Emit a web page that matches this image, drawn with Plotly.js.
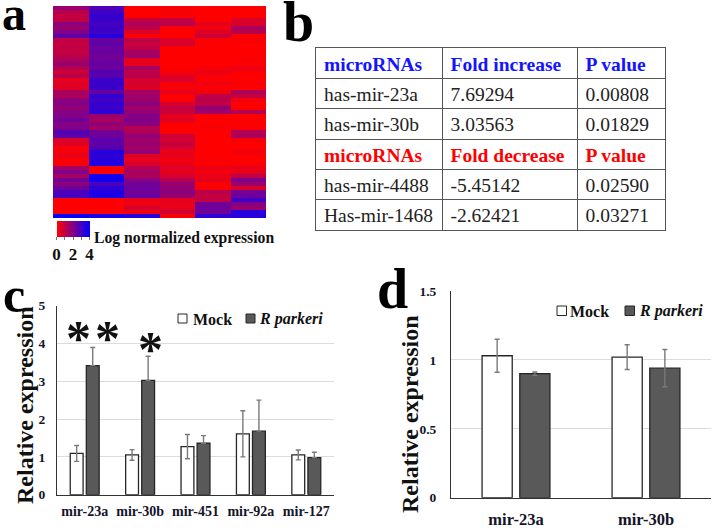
<!DOCTYPE html>
<html><head><meta charset="utf-8">
<script src="https://cdn.plot.ly/plotly-3.0.1.min.js"></script>
<style>html,body{margin:0;padding:0;background:#fff}</style></head>
<body><div id="chart" style="width:714px;height:528px"></div>
<script>
// Panel a: heatmap columns (log normalized expression, 53 rows top to bottom)
const heatCol1=[1.6,1.1,.9,1.0,1.8,1.6,2.0,2.5,1.0,.9,1.0,.9,1.1,1.3,1.6,1.2,.8,1.1,.4,.5,.5,1.4,1.3,1.8,1.9,1.7,1.9,2.0,2.2,1.9,2.0,2.7,2.5,.6,.5,.1,.2,.3,.1,.1,1.5,2.0,1.4,2.2,1.8,2.3,2.8,2.9,0,0,0,0,3.9];
const heatCol2=[2.8,3.0,3.2,3.1,2.9,3.1,3.0,3.4,2.4,2.5,2.3,2.4,2.2,2.3,2.4,2.3,2.7,2.6,3.1,3.1,3.1,2.4,3.2,3.0,3.2,3.1,3.3,1.6,1.4,1.7,1.5,2.2,2.3,2.6,2.5,2.7,3.4,3.3,3.4,3.5,0,0,3.7,3.8,2.8,3.3,3.5,3.6,0,0,0,0,3.6];
const heatCol3=[0,0,0,.9,1.3,1.0,.5,.1,1.0,.9,1.0,1.4,1.5,.4,.4,1.4,1.0,1.1,.7,.6,.6,1.4,1.5,1.6,1.8,1.5,1.7,1.9,2.0,1.8,1.2,1.3,1.7,1.5,1.6,1.5,1.7,.5,.4,.6,1.2,1.4,1.3,1.9,2.2,2.3,2.2,2.4,.4,.2,.7,.2,3.4];
const heatCol4=[.1,.1,.1,.9,1.1,.1,0,0,.5,.7,0,0,0,0,0,0,.1,.5,.6,.1,.1,.4,0,0,.7,.9,.8,.4,.5,0,0,0,.8,.7,.9,.7,.3,.4,.2,.3,.5,.4,.7,1.2,1.6,1.7,1.8,1.6,.5,.3,.4,.8,.1];
const heatCol5=[0,0,0,0,.4,.2,.5,.8,0,0,0,0,0,0,0,.1,.3,.1,.1,.2,.1,.2,1.0,1.1,1.0,1.7,1.5,0,0,0,.1,0,0,0,0,0,0,0,.1,0,.3,.2,.3,.4,0,.1,1.1,.9,1.0,2.2,2.3,2.2,3.3];
const heatCol6=[0,0,0,.6,.6,1.3,1.1,0,.1,0,0,0,0,.1,0,.3,.1,0,0,.1,0,1.3,.9,.2,0,0,1.2,0,0,0,.1,1.2,1.3,.1,0,0,.2,0,0,.1,.3,.4,1.0,2.0,1.6,.6,2.2,2.3,3.0,1.9,1.6,3.4,3.4];
// Panel b: table, one array per column, rows top to bottom
const tableCol1=["<b>microRNAs</b>","has-mir-23a","has-mir-30b","<b>microRNAs</b>","has-mir-4488","Has-mir-1468"];
const tableCol2=["<b>Fold increase</b>","7.69294","3.03563","<b>Fold decrease</b>","-5.45142","-2.62421"];
const tableCol3=["<b>P value</b>","0.00808","0.01829","<b>P value</b>","0.02590","0.03271"];
const tableRowColors=["#1414ff","#222","#222","#ff0000","#222","#222"];
// Panel c
const catsC=["mir-23a","mir-30b","mir-451","mir-92a","mir-127"];
const mockC=[1.09,1.05,1.27,1.61,1.05];
const mockErrC=[.21,.14,.32,.61,.13];
const rickC=[3.41,3.02,1.36,1.68,.98];
const rickErrC=[.48,.64,.2,.82,.14];
// Panel d
const catsD=["mir-23a","mir-30b"];
const mockD=[1.03,1.02];
const mockErrD=[.12,.09];
const rickD=[.9,.94];
const rickErrD=[.012,.135];

const W=714,H=528,SERIF="Liberation Serif",INK="#111";
const px=x=>x/W, py=y=>1-y/H;
const rows=heatCol1.map((_,i)=>i);
const z=rows.map(i=>[heatCol1[i],heatCol2[i],heatCol3[i],heatCol4[i],heatCol5[i],heatCol6[i]]);
const colEdges=[0,126.5,261.5,349];
const cellPadX=8, cellPadY=.58;
function tableColumn(vals,c){
  return {type:"scatter",mode:"text",x:vals.map(()=>colEdges[c]+cellPadX),y:vals.map((_,i)=>i+cellPadY),text:vals,xaxis:"x4",yaxis:"y4",
    textposition:"middle right",textfont:{family:SERIF,size:19.5,color:tableRowColors},showlegend:false,cliponaxis:false};
}
function bars(name,xa,ya,x,y,e,fill,upperOnly){
  return {type:"bar",name,x,y,xaxis:xa,yaxis:ya,showlegend:false,
    marker:{color:fill,line:{color:"#262626",width:1.3}},
    error_y:{type:"data",symmetric:false,array:e,arrayminus:upperOnly?e.map(()=>0):e,color:"#7a7a7a",thickness:1.4,width:2.5}};
}
const data=[
 {type:"heatmap",z,xaxis:"x",yaxis:"y",zmin:0,zmax:4,showscale:true,
  colorscale:[[0,"#ff0000"],[.5,"#80008a"],[1,"#0000ff"]],
  colorbar:{orientation:"h",lenmode:"pixels",len:33,thicknessmode:"pixels",thickness:16,
    x:px(56.5),xanchor:"left",y:py(221.5),yanchor:"top",xpad:0,ypad:0,outlinewidth:0,
    tickmode:"array",tickvals:[0,1,2,3,4],ticktext:["0","","2","","4"],ticks:"outside",ticklen:3,tickcolor:"#777",
    tickfont:{family:SERIF,size:17,color:INK,weight:"bold"}}},
 tableColumn(tableCol1,0),tableColumn(tableCol2,1),tableColumn(tableCol3,2),
 bars("Mock","x2","y2",catsC,mockC,mockErrC,"#fff",false),
 bars("R parkeri","x2","y2",catsC,rickC,rickErrC,"#595959",true),
 bars("Mock","x3","y3",catsD,mockD,mockErrD,"#fff",false),
 bars("R parkeri","x3","y3",catsD,rickD,rickErrD,"#595959",false)
];
const tick={family:SERIF,size:13.5,color:"#14142a",weight:"bold"};
function ann(text,x,y,size,opt){return Object.assign({text,x:px(x),y:py(y),xref:"paper",yref:"paper",showarrow:false,xanchor:"center",yanchor:"middle",font:{family:SERIF,size,color:INK,weight:"bold"}},opt||{});}
function sq(x,y,fill,s){return {type:"rect",xref:"paper",yref:"paper",x0:px(x),x1:px(x+s),y0:py(y+s),y1:py(y),fillcolor:fill,line:{color:"#262626",width:1}};}
const grid={showticklabels:false,ticks:"",showgrid:true,gridcolor:"#555",gridwidth:1.2,zeroline:false,showline:true,mirror:true,linecolor:"#555",linewidth:1.2};
const layout={width:W,height:H,margin:{l:0,r:0,t:0,b:0},paper_bgcolor:"#fff",plot_bgcolor:"#fff",
 barmode:"group",bargap:.42,bargroupgap:.2,showlegend:false,
 xaxis:{domain:[px(53),px(266)],visible:false,range:[-.5,5.5]},
 yaxis:{domain:[py(218),py(6)],visible:false,autorange:"reversed",anchor:"x"},
 xaxis2:{domain:[px(57),px(334)],anchor:"y2",showgrid:false,showline:true,linecolor:"#333",linewidth:1,ticks:"",ticklabelstandoff:3,tickfont:{...tick,size:14}},
 yaxis2:{domain:[py(494.7),py(305.5)],anchor:"x2",range:[0,5],dtick:1,showgrid:true,gridcolor:"#dcdcdc",gridwidth:1,zeroline:false,showline:true,linecolor:"#333",linewidth:1,ticks:"",ticklabelstandoff:8,tickfont:tick},
 xaxis3:{domain:[px(451),px(711)],anchor:"y3",showgrid:false,showline:true,linecolor:"#333",linewidth:1,ticks:"",ticklabelstandoff:6,tickfont:{...tick,size:16.5}},
 yaxis3:{domain:[py(497.7),py(291)],anchor:"x3",range:[0,1.5],dtick:.5,showgrid:true,gridcolor:"#dcdcdc",gridwidth:1,zeroline:false,showline:true,linecolor:"#333",linewidth:1,ticks:"",ticklabelstandoff:11,tickfont:tick},
 xaxis4:{...grid,domain:[px(316),px(665)],anchor:"y4",range:[0,349],tickmode:"array",tickvals:colEdges},
 yaxis4:{...grid,domain:[py(230),py(48.3)],anchor:"x4",range:[6,0],tickmode:"array",tickvals:[0,1,2,3,4,5,6]},
 shapes:[sq(178,314,"#fff",9),sq(246,314,"#595959",9),sq(557,306,"#fff",9.5),sq(625,306,"#595959",9.5)],
 annotations:[
  ann("a",14,14,48,{font:{family:SERIF,size:48,color:"#000",weight:"bold"}}),
  ann("b",298,22,56,{font:{family:SERIF,size:56,color:"#000",weight:"bold"}}),
  ann("c",14,295,50,{font:{family:SERIF,size:50,color:"#000",weight:"bold"}}),
  ann("d",392,289,56,{font:{family:SERIF,size:56,color:"#000",weight:"bold"}}),
  ann("Log normalized expression",92,238,15.7,{xanchor:"left"}),
  ann("Relative expression",25,405,24,{textangle:-90}),
  ann("Relative expression",410,414,24,{textangle:-90}),
  ann("*",78,338,50),ann("*",108,338,50),ann("*",150,349,50),
  ann("Mock",191,319,16,{xanchor:"left"}),
  ann("R parkeri",257,319,16,{xanchor:"left",font:{family:SERIF,size:16,color:INK,weight:"bold",style:"italic"}}),
  ann("Mock",568,311,16,{xanchor:"left"}),
  ann("R parkeri",637,311,16,{xanchor:"left",font:{family:SERIF,size:16,color:INK,weight:"bold",style:"italic"}})
 ]};
Plotly.newPlot("chart",data,layout,{displayModeBar:false,staticPlot:true});
</script></body></html>
